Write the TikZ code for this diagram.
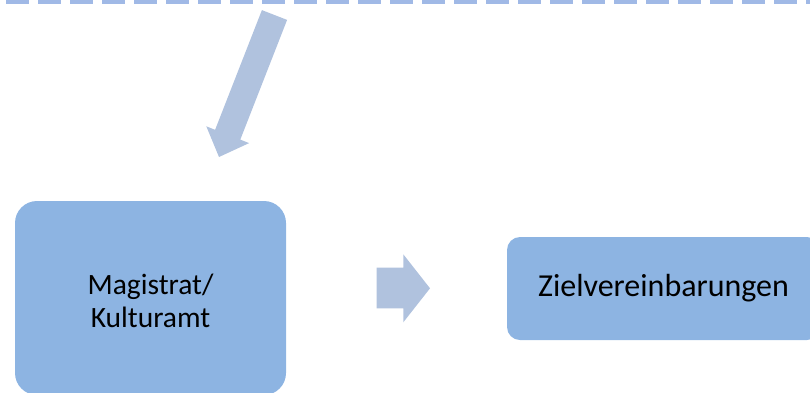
\documentclass[tikz,border=0pt]{standalone}
\usepackage{fontspec}
\setmainfont{Carlito}
\definecolor{boxblue}{RGB}{141,180,226}
\definecolor{arrowblue}{RGB}{176,194,222}
\definecolor{dashblue}{RGB}{160,185,230}
\begin{document}
\begin{tikzpicture}[x=1pt,y=-1pt,
  boxstyle/.style={fill=boxblue,draw=none,inner sep=0pt,align=center},
  blockarrow/.style={fill=arrowblue,draw=none}]
\clip (0,0) rectangle (810,392);
% dashed top line
\coordinate (dl) at (6,0.5);
\coordinate (dr) at (820,0.5);
\draw[dashblue,line width=6pt,dash pattern=on 23pt off 9pt] (dl) -- (dr);
% boxes
\node[boxstyle,minimum width=271pt,minimum height=194pt,rounded corners=22pt] (mag) at (150.5,298) {};
\node[font=\fontsize{29.5}{32.5}\selectfont,align=center,inner sep=0pt] (magtext) at (150.5,301) {Magistrat/\\Kulturamt};
\node[boxstyle,minimum width=313pt,minimum height=103pt,rounded corners=13pt,
  font=\fontsize{32}{38}\selectfont] (ziel) at (663.5,288.5) {Zielvereinbarungen};
% diagonal block arrow
\fill[blockarrow] (287.1,19.9) -- (261.9,10.1) -- (215.1,129.8) -- (206.3,126.3)
  -- (219,157) -- (249.1,143.1) -- (240.3,139.6) -- cycle;
% right block arrow
\fill[blockarrow] (376.7,267.7) -- (403.3,267.7) -- (403.3,254.3) -- (430,288.3)
  -- (403.3,322.3) -- (403.3,308.3) -- (376.7,308.3) -- cycle;
\end{tikzpicture}
\end{document}
